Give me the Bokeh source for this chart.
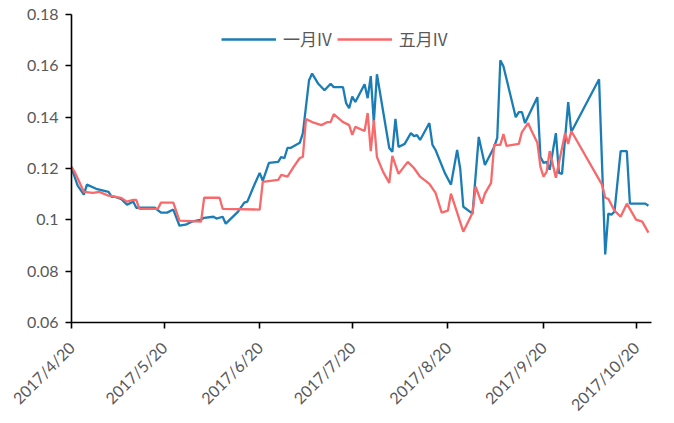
import math
import pandas as pd
from bokeh.plotting import figure
from bokeh.models import (FixedTicker, Range1d, Legend, LegendItem, NumeralTickFormatter, ColumnDataSource)
from bokeh.embed import file_html
from bokeh.resources import INLINE

# ---- data ----
jan_dates = ["2017-04-20", "2017-04-22", "2017-04-24", "2017-04-25", "2017-04-28", "2017-05-02", "2017-05-03",
             "2017-05-04", "2017-05-06", "2017-05-08", "2017-05-10", "2017-05-11", "2017-05-17", "2017-05-19",
             "2017-05-21", "2017-05-23", "2017-05-25", "2017-05-27", "2017-05-29", "2017-06-01", "2017-06-02",
             "2017-06-05", "2017-06-06", "2017-06-08", "2017-06-09", "2017-06-13", "2017-06-15", "2017-06-16",
             "2017-06-18", "2017-06-20", "2017-06-21", "2017-06-23", "2017-06-26", "2017-06-27", "2017-06-28",
             "2017-06-29", "2017-06-30", "2017-07-03", "2017-07-04", "2017-07-06", "2017-07-07", "2017-07-09",
             "2017-07-11", "2017-07-13", "2017-07-14", "2017-07-17", "2017-07-18", "2017-07-19", "2017-07-20",
             "2017-07-21", "2017-07-24", "2017-07-25", "2017-07-26", "2017-07-27", "2017-07-28", "2017-08-01",
             "2017-08-02", "2017-08-03", "2017-08-04", "2017-08-06", "2017-08-08", "2017-08-09", "2017-08-10",
             "2017-08-11", "2017-08-14", "2017-08-15", "2017-08-16", "2017-08-19", "2017-08-21", "2017-08-23",
             "2017-08-24", "2017-08-25", "2017-08-28", "2017-08-30", "2017-09-01", "2017-09-04", "2017-09-05",
             "2017-09-06", "2017-09-07", "2017-09-11", "2017-09-12", "2017-09-13", "2017-09-14", "2017-09-18",
             "2017-09-19", "2017-09-20", "2017-09-21", "2017-09-22", "2017-09-24", "2017-09-25", "2017-09-26",
             "2017-09-28", "2017-09-29", "2017-10-08", "2017-10-10", "2017-10-11", "2017-10-12", "2017-10-13",
             "2017-10-15", "2017-10-17", "2017-10-18", "2017-10-23", "2017-10-24"]
jan_iv = [0.1202, 0.1133, 0.1098, 0.1137, 0.1121, 0.1109, 0.1090, 0.1090, 0.1082, 0.1059, 0.1071, 0.1047, 0.1047,
          0.1028, 0.1028, 0.1040, 0.0977, 0.0981, 0.0993, 0.1001, 0.1008, 0.1012, 0.1005, 0.1012, 0.0985, 0.1032,
          0.1067, 0.1071, 0.1129, 0.1183, 0.1152, 0.1222, 0.1226, 0.1245, 0.1240, 0.1280, 0.1280, 0.1300, 0.1338,
          0.1544, 0.1570, 0.1530, 0.1505, 0.1530, 0.1517, 0.1517, 0.1455, 0.1435, 0.1480, 0.1459, 0.1528, 0.1474,
          0.1560, 0.1380, 0.1567, 0.1280, 0.1265, 0.1393, 0.1284, 0.1296, 0.1338, 0.1326, 0.1330, 0.1311, 0.1377,
          0.1292, 0.1272, 0.1183, 0.1137, 0.1272, 0.1199, 0.1051, 0.1024, 0.1323, 0.1214, 0.1284, 0.1319, 0.1622,
          0.1598, 0.1400, 0.1420, 0.1420, 0.1377, 0.1478, 0.1245, 0.1222, 0.1226, 0.1195, 0.1338, 0.1183, 0.1179,
          0.1459, 0.1342, 0.1548, 0.0865, 0.1024, 0.1020, 0.1032, 0.1268, 0.1268, 0.1063, 0.1063, 0.1055]

may_dates = ["2017-04-20", "2017-04-21", "2017-04-24", "2017-04-27", "2017-04-29", "2017-05-02", "2017-05-06",
             "2017-05-08", "2017-05-10", "2017-05-11", "2017-05-12", "2017-05-18", "2017-05-19", "2017-05-23",
             "2017-05-25", "2017-06-01", "2017-06-02", "2017-06-07", "2017-06-08", "2017-06-20", "2017-06-21",
             "2017-06-26", "2017-06-27", "2017-06-29", "2017-07-01", "2017-07-03", "2017-07-04", "2017-07-05",
             "2017-07-07", "2017-07-10", "2017-07-12", "2017-07-13", "2017-07-14", "2017-07-17", "2017-07-19",
             "2017-07-20", "2017-07-21", "2017-07-24", "2017-07-25", "2017-07-26", "2017-07-27", "2017-07-28",
             "2017-07-30", "2017-08-01", "2017-08-02", "2017-08-04", "2017-08-07", "2017-08-09", "2017-08-11",
             "2017-08-14", "2017-08-16", "2017-08-18", "2017-08-20", "2017-08-21", "2017-08-25", "2017-08-28",
             "2017-08-29", "2017-08-31", "2017-09-01", "2017-09-03", "2017-09-04", "2017-09-06", "2017-09-07",
             "2017-09-08", "2017-09-12", "2017-09-13", "2017-09-15", "2017-09-16", "2017-09-18", "2017-09-19",
             "2017-09-20", "2017-09-21", "2017-09-22", "2017-09-24", "2017-09-27", "2017-09-28", "2017-09-29",
             "2017-10-09", "2017-10-10", "2017-10-11", "2017-10-13", "2017-10-15", "2017-10-17", "2017-10-20",
             "2017-10-22", "2017-10-24"]
may_iv = [0.1206, 0.1187, 0.1109, 0.1105, 0.1109, 0.1094, 0.1086, 0.1071, 0.1078, 0.1078, 0.1043, 0.1043, 0.1067,
          0.1067, 0.0997, 0.0993, 0.1086, 0.1086, 0.1043, 0.1040, 0.1148, 0.1156, 0.1175, 0.1168, 0.1206, 0.1241,
          0.1245, 0.1393, 0.1381, 0.1369, 0.1381, 0.1381, 0.1412, 0.1381, 0.1369, 0.1331, 0.1362, 0.1346, 0.1416,
          0.1268, 0.1389, 0.1245, 0.1187, 0.1144, 0.1249, 0.1179, 0.1226, 0.1202, 0.1168, 0.1140, 0.1105, 0.1028,
          0.1036, 0.1102, 0.0954, 0.1028, 0.1129, 0.1063, 0.1102, 0.1144, 0.1292, 0.1292, 0.1334, 0.1288, 0.1296,
          0.1342, 0.1377, 0.1350, 0.1300, 0.1206, 0.1168, 0.1187, 0.1268, 0.1164, 0.1338, 0.1296, 0.1346, 0.1136,
          0.1086, 0.1082, 0.1036, 0.1012, 0.1063, 0.1001, 0.0993, 0.0950]

series_names = ["一月IV", "五月IV"]
x_tick_labels = ["2017/4/20", "2017/5/20", "2017/6/20", "2017/7/20", "2017/8/20", "2017/9/20", "2017/10/20"]
y_ticks = [0.06, 0.08, 0.10, 0.12, 0.14, 0.16, 0.18]
x_start, x_end = "2017-04-20", "2017-10-25"

# ---- figure ----
FONT = "Lato"
TEXT = "#595959"
W, H = 658, 423
BL, BR, BT, BB = 71, 7, 14, 100

xs, xe = pd.Timestamp(x_start), pd.Timestamp(x_end)
p = figure(width=W, height=H, x_axis_type="datetime", output_backend="svg", toolbar_location=None,
           x_range=Range1d(xs, xe), y_range=Range1d(y_ticks[0], y_ticks[-1]),
           min_border_left=BL, min_border_right=BR, min_border_top=BT, min_border_bottom=BB,
           background_fill_color="white", border_fill_color="white")
p.outline_line_color = None
p.grid.visible = False

src1 = ColumnDataSource(dict(x=pd.to_datetime(jan_dates), y=jan_iv))
src2 = ColumnDataSource(dict(x=pd.to_datetime(may_dates), y=may_iv))
r1 = p.line("x", "y", source=src1, line_color="#1B7DB5", line_width=2.3)
r2 = p.line("x", "y", source=src2, line_color="#F8696B", line_width=2.3)

tick_dates = pd.to_datetime(x_tick_labels, format="%Y/%m/%d")
tick_ms = [t.value / 1e6 for t in tick_dates]
p.xaxis.ticker = FixedTicker(ticks=tick_ms)
p.xaxis.major_label_overrides = {t: lab for t, lab in zip(tick_ms, x_tick_labels)}
p.xaxis.major_label_orientation = math.pi / 4
p.yaxis.ticker = FixedTicker(ticks=y_ticks)
p.yaxis.formatter = NumeralTickFormatter(format="0.0[0]")

for ax in (p.xaxis[0], p.yaxis[0]):
    ax.axis_line_color = "black"
    ax.axis_line_width = 1.6
    ax.major_tick_line_color = "black"
    ax.major_tick_line_width = 1.6
    ax.major_tick_in = 0
    ax.major_tick_out = 6
    ax.minor_tick_line_color = None
    ax.major_label_text_font = FONT
    ax.major_label_text_font_size = "16px"
    ax.major_label_text_color = TEXT
p.yaxis.major_label_standoff = 7
p.xaxis.major_label_standoff = 16

legend = Legend(items=[LegendItem(label=series_names[0], renderers=[r1]),
                       LegendItem(label=series_names[1], renderers=[r2])],
                orientation="horizontal", location=(150, 271),
                border_line_color=None, background_fill_alpha=0,
                padding=0, margin=0, spacing=5, glyph_width=55, glyph_height=20,
                label_height=20, label_standoff=7,
                label_text_font="Noto Sans CJK SC", label_text_font_size="17px",
                label_text_color=TEXT)
p.add_layout(legend)

open("out.html", "w").write(file_html(p, INLINE))
